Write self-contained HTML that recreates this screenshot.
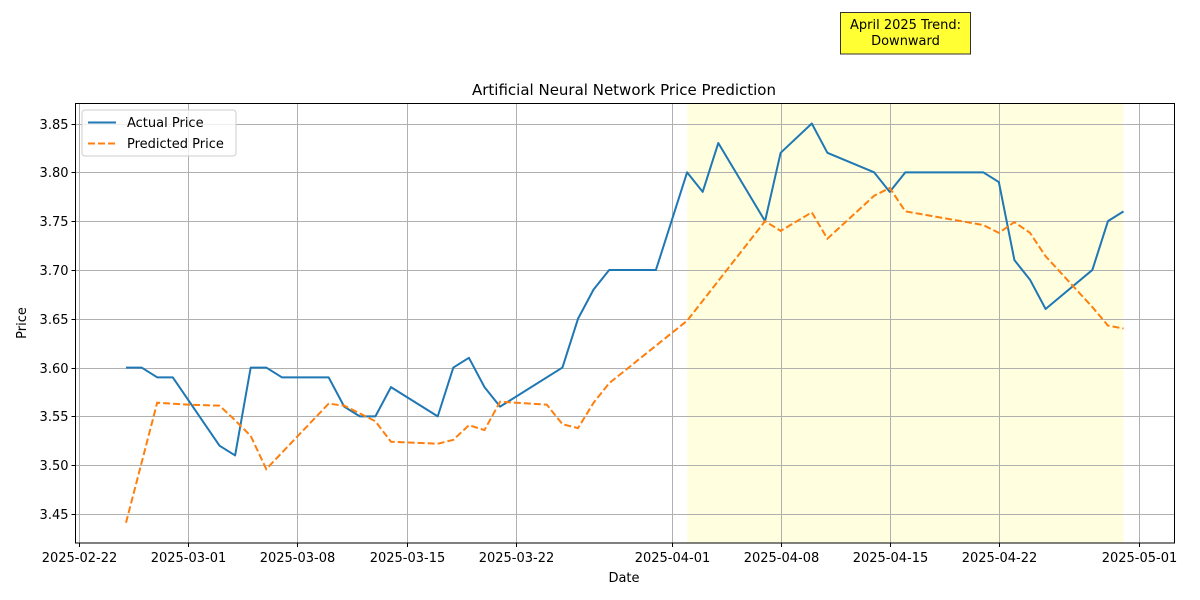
<!DOCTYPE html>
<html><head><meta charset="utf-8"><style>
html,body{margin:0;padding:0;background:#fff;}
svg{display:block;font-family:"DejaVu Sans","Liberation Sans",sans-serif;}
</style></head><body>
<svg id="chart" width="1200" height="600" viewBox="0 0 1200 600">
<rect x="0" y="0" width="1200" height="600" fill="#fff"/>
<g id="highlight"></g>
<g id="grid"></g>
<g id="series"></g>
<rect x="75.5" y="103.5" width="1099" height="439.5" fill="none" stroke="#000" stroke-width="1"/>
<g id="ticks"></g>
<text x="624" y="95" font-size="15" text-anchor="middle">Artificial Neural Network Price Prediction</text>
<text x="624" y="582" font-size="13" text-anchor="middle">Date</text>
<text x="26" y="323" font-size="13" text-anchor="middle" transform="rotate(-90 26 323)">Price</text>
<g>
<rect x="82" y="110" width="154" height="46" rx="3" fill="#fff" fill-opacity="0.8" stroke="#ccc"/>
<line x1="88" y1="122.5" x2="116" y2="122.5" stroke="#1f77b4" stroke-width="2"/>
<text x="127" y="127" font-size="13">Actual Price</text>
<line x1="88" y1="143.5" x2="116" y2="143.5" stroke="#ff7f0e" stroke-width="2" stroke-dasharray="7,3"/>
<text x="127" y="148" font-size="13">Predicted Price</text>
</g>
<g>
<rect x="840.5" y="12.5" width="130" height="41.5" fill="#ffff33" stroke="#333" stroke-width="1"/>
<text x="905.5" y="29" font-size="13" text-anchor="middle">April 2025 Trend:</text>
<text x="905.5" y="45" font-size="13" text-anchor="middle">Downward</text>
</g>
</svg>
<script>
// day offsets from 2025-03-01
const actualDays = [-4,-3,-2,-1,2,3,4,5,6,9,10,11,12,13,16,17,18,19,20,24,25,26,27,30,32,33,34,37,38,40,41,44,45,46,51,52,53,54,55,58,59,60];
const actualValues = [3.60,3.60,3.59,3.59,3.52,3.51,3.60,3.60,3.59,3.59,3.56,3.55,3.55,3.58,3.55,3.60,3.61,3.58,3.56,3.60,3.65,3.68,3.70,3.70,3.80,3.78,3.83,3.75,3.82,3.85,3.82,3.80,3.78,3.80,3.80,3.79,3.71,3.69,3.66,3.70,3.75,3.76];
const predDays = [-4,-2,0,2,3,4,5,9,10,12,13,16,17,18,19,20,23,24,25,26,27,32,37,38,40,41,44,45,46,51,52,53,54,55,58,59,60];
const predValues = [3.441,3.564,3.562,3.561,3.546,3.530,3.496,3.563,3.561,3.545,3.524,3.522,3.526,3.541,3.536,3.565,3.562,3.542,3.538,3.564,3.584,3.648,3.750,3.740,3.759,3.732,3.776,3.784,3.760,3.746,3.738,3.749,3.738,3.714,3.662,3.643,3.640];
const yTicks = [3.45,3.50,3.55,3.60,3.65,3.70,3.75,3.80,3.85];
const xTickDays = [-7,0,7,14,21,31,38,45,52,61];
const xTickLabels = ["2025-02-22","2025-03-01","2025-03-08","2025-03-15","2025-03-22","2025-04-01","2025-04-08","2025-04-15","2025-04-22","2025-05-01"];
const highlightRange = [32,60];

const NS="http://www.w3.org/2000/svg";
const X0=75.5,X1=1174.5,Y0=103.5,Y1=543;
const dMin=-7.24,dMax=63.27,vMin=3.4203,vMax=3.8705;
const xs=d=>X0+(d-dMin)/(dMax-dMin)*(X1-X0);
const ys=v=>Y1-(v-vMin)/(vMax-vMin)*(Y1-Y0);
function mk(tag,attrs,parent){const e=document.createElementNS(NS,tag);for(const k in attrs)e.setAttribute(k,attrs[k]);parent.appendChild(e);return e;}

const hl=mk('rect',{x:xs(highlightRange[0]),y:Y0,width:xs(highlightRange[1])-xs(highlightRange[0]),height:Y1-Y0,fill:'#ffffe0'},document.getElementById('highlight'));



const grid=document.getElementById('grid'),ticks=document.getElementById('ticks');
yTicks.forEach(v=>{
  const y=Math.round(ys(v))+0.5;
  const g=mk('line',{x1:X0,x2:X1,y1:y,y2:y,stroke:'#b0b0b0','stroke-width':1},grid);
  
  
  mk('line',{x1:X0-4,x2:X0,y1:y,y2:y,stroke:'#000'},ticks);
  const t=mk('text',{x:X0-7,y:y+4.5,'font-size':13,'text-anchor':'end'},ticks);
  t.textContent=v.toFixed(2);
  
  
});
xTickDays.forEach((d,i)=>{
  const x=Math.round(xs(d))+0.5;
  const g=mk('line',{x1:x,x2:x,y1:Y0,y2:Y1,stroke:'#b0b0b0','stroke-width':1},grid);
  
  
  mk('line',{x1:x,x2:x,y1:Y1,y2:Y1+4,stroke:'#000'},ticks);
  const t=mk('text',{x:x,y:Y1+19,'font-size':13,'text-anchor':'middle'},ticks);
  t.textContent=xTickLabels[i];
  
  
});
const series=document.getElementById('series');
const pa=mk('polyline',{points:actualDays.map((d,i)=>xs(d)+','+ys(actualValues[i])).join(' '),fill:'none',stroke:'#1f77b4','stroke-width':2,'stroke-linejoin':'round'},series);


const pp=mk('polyline',{points:predDays.map((d,i)=>xs(d)+','+ys(predValues[i])).join(' '),fill:'none',stroke:'#ff7f0e','stroke-width':2,'stroke-dasharray':'7,3'},series);


</script>
</body></html>
